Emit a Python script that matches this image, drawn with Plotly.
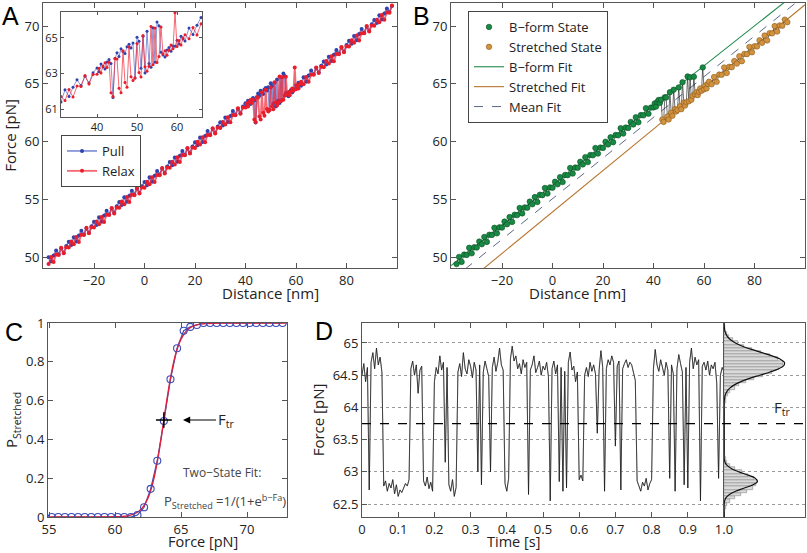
import plotly.graph_objects as go

# ---------------- Panel A data (distance [nm], force [pN]) ----------------
dist_a = list(range(-38, 40)) + [40 + 0.5 * i for i in range(45)] + list(range(63, 99))

pull_force = [
    49.99, 49.61, 50.13, 50.56, 50.23, 50.75, 50.37, 50.95, 51.32, 51.04,
    51.71, 51.34, 51.86, 52.28, 51.96, 52.48, 52.10, 52.67, 53.05, 52.77,
    53.44, 53.06, 53.59, 54.01, 53.68, 54.20, 53.83, 54.40, 54.77, 54.50,
    55.17, 54.79, 55.31, 55.74, 55.41, 55.93, 55.55, 56.13, 56.50, 56.22,
    56.90, 56.52, 57.04, 57.46, 57.14, 57.66, 57.28, 57.85, 58.23, 57.95,
    58.62, 58.25, 58.77, 59.19, 58.86, 59.39, 59.01, 59.58, 59.95, 59.68,
    60.35, 59.97, 60.49, 60.92, 60.59, 61.11, 60.74, 61.31, 61.68, 61.40,
    62.08, 61.70, 62.22, 62.64, 62.32, 62.84, 62.46, 63.04,
    63.31, 63.10, 63.53, 63.37, 63.25, 63.64, 63.78, 63.56, 61.65, 63.84,
    64.17, 63.96, 64.39, 64.23, 64.12, 64.50, 64.64, 64.43, 64.71, 62.74,
    65.04, 64.82, 63.30, 65.09, 63.03, 65.37, 63.56, 63.35, 65.58, 63.63,
    65.90, 65.68, 64.20, 64.04, 63.93, 64.32, 64.46, 64.25, 64.54, 64.53,
    64.87, 64.66, 65.10, 64.94, 64.83,
    65.56, 65.19, 65.72, 66.15, 65.83, 66.36, 65.99, 66.57, 66.94, 66.67,
    67.35, 66.98, 67.51, 67.94, 67.62, 68.15, 67.78, 68.36, 68.74, 68.47,
    69.15, 68.78, 69.31, 69.74, 69.42, 69.95, 69.58, 70.16, 70.53, 70.26,
    70.94, 70.57, 71.10, 71.53, 71.21, 71.74,
]

relax_force = [
    49.39, 50.01, 49.58, 50.21, 50.18, 50.80, 50.32, 50.85, 50.82, 51.34,
    51.11, 51.74, 51.31, 51.93, 51.91, 52.53, 52.05, 52.57, 52.55, 53.07,
    52.84, 53.46, 53.04, 53.66, 53.63, 54.25, 53.78, 54.30, 54.27, 54.80,
    54.57, 55.19, 54.76, 55.39, 55.36, 55.98, 55.50, 56.03, 56.00, 56.52,
    56.30, 56.92, 56.49, 57.11, 57.09, 57.71, 57.23, 57.75, 57.73, 58.25,
    58.02, 58.65, 58.22, 58.84, 58.81, 59.44, 58.96, 59.48, 59.45, 59.98,
    59.75, 60.37, 59.94, 60.57, 60.54, 61.16, 60.69, 61.21, 61.18, 61.70,
    61.48, 62.10, 61.67, 62.29, 62.27, 62.89, 62.41, 62.94,
    62.96, 63.30, 63.03, 63.42, 63.60, 63.34, 63.63, 61.91, 61.70, 63.84,
    63.82, 62.17, 61.91, 64.28, 62.49, 62.23, 64.49, 62.81, 62.60, 62.74,
    64.69, 63.06, 62.80, 65.14, 63.38, 63.12, 63.41, 65.64, 63.49, 65.56,
    63.62, 63.96, 65.62, 64.09, 64.28, 64.02, 64.31, 64.60, 64.39, 66.42,
    64.52, 64.86, 64.60, 64.99, 65.18,
    64.96, 65.59, 65.17, 65.80, 65.78, 66.41, 65.94, 66.47, 66.44, 66.97,
    66.75, 67.38, 66.96, 67.59, 67.57, 68.20, 67.73, 68.26, 68.24, 68.77,
    68.55, 69.18, 68.76, 69.39, 69.37, 70.00, 69.53, 70.06, 70.03, 70.56,
    70.34, 70.97, 70.55, 71.18, 71.16, 71.79,
]

# ---------------- Panel B: linear fits (slope pN/nm, intercept pN) ----------------
bform_fit = (0.1727, 56.2)
stretched_fit = (0.1795, 53.9)
b_max_dist = 93

# ---------------- Panel C data ----------------
c_force = [55.2 + 0.5 * k for k in range(36)]
c_prob = [0, 0, 0, 0, 0, 0, 0, 0, 0, 0, 0, 0, 0,
          0.01, 0.05, 0.145, 0.29, 0.495, 0.71, 0.87, 0.96, 0.98, 0.99,
          1, 1, 1, 1, 1, 1, 1, 1, 1, 1, 1, 1, 1]
c_fit_x = [55, 60, 60.5, 61, 61.5, 62, 62.5, 62.75, 63, 63.25, 63.5, 63.75, 64,
           64.25, 64.5, 64.75, 65, 65.5, 66, 66.5, 67, 68, 73]
c_fit_y = [0, 0.0011, 0.0027, 0.0067, 0.0168, 0.0413, 0.098, 0.147, 0.215, 0.303,
           0.408, 0.523, 0.635, 0.734, 0.815, 0.875, 0.917, 0.965, 0.986, 0.9944,
           0.9978, 0.9997, 1.0]
c_ftr, c_ftr_err, c_p_err = 63.7, 0.6, 0.04

# ---------------- Panel D data ----------------
d_time = [i * 0.005 for i in range(201)]
d_force = [
    64.50, 64.68, 64.40, 64.62, 62.72, 64.70, 64.85, 64.60, 64.92, 64.66,
    64.78, 64.55, 62.78, 62.86, 62.70, 62.82, 62.75, 62.88, 62.66, 62.80,
    62.62, 62.72, 62.68, 62.76, 62.82, 62.78, 62.88, 64.60, 64.72, 64.50,
    64.66, 64.22, 64.58, 64.64, 62.86, 62.78, 62.92, 62.74, 62.84, 62.70,
    64.40, 64.62, 64.52, 64.80, 64.58, 64.70, 63.15, 64.62, 62.80, 62.70,
    62.88, 62.62, 62.76, 64.55, 64.68, 64.48, 64.85, 64.60, 64.52, 64.74,
    64.64, 64.46, 64.70, 64.58, 63.00, 64.66, 62.80, 64.55, 64.72, 64.60,
    64.48, 63.00, 64.62, 64.78, 64.56, 64.70, 64.92, 64.66, 64.58, 62.82,
    62.70, 62.90, 64.75, 64.95, 64.72, 64.80, 64.60, 64.68, 64.52, 64.74,
    64.62, 64.70, 62.65, 64.58, 64.66, 64.80, 64.54, 64.62, 64.72, 64.50,
    64.64, 64.58, 64.70, 64.48, 62.55, 64.60, 64.72, 64.52, 64.66, 62.85,
    64.62, 62.70, 64.56, 62.75, 64.70, 64.86, 64.58, 64.64, 64.40, 64.55,
    62.88, 62.95, 62.86, 64.50, 64.62, 64.48, 64.70, 64.56, 64.66, 64.52,
    63.60, 64.58, 64.88, 64.62, 62.70, 64.60, 64.74, 64.66, 64.80, 64.70,
    63.40, 64.64, 64.72, 62.72, 64.60, 64.68, 64.74, 64.62, 64.70, 64.66,
    64.56, 64.42, 62.86, 62.76, 62.70, 62.84, 62.78, 62.90, 62.72, 62.82,
    62.88, 64.60, 64.90, 64.66, 64.56, 64.74, 64.62, 64.50, 64.70, 64.58,
    62.90, 64.66, 64.52, 62.70, 64.60, 64.82, 64.68, 64.55, 62.80, 64.62,
    62.75, 64.70, 64.92, 64.60, 64.78, 64.66, 64.74, 62.55, 64.64, 64.70,
    64.58, 64.72, 64.50, 64.66, 64.60, 64.70, 64.38, 62.90, 64.50, 64.62,
    64.55,
]
d_ftr = 63.75
hist_centers = [round(62.35 + 0.05 * i, 2) for i in range(59)]
hist_counts = [
    0.005, 0.01, 0.02, 0.04, 0.08, 0.14, 0.21, 0.29, 0.36, 0.40,
    0.41, 0.37, 0.30, 0.22, 0.14, 0.08, 0.04, 0.02, 0.01, 0.005,
    0.003, 0.003, 0.002, 0.002, 0.002, 0.003, 0.002, 0.003, 0.003, 0.002,
    0.003, 0.004, 0.005,
    0.008, 0.012, 0.02, 0.03, 0.05, 0.08, 0.13, 0.19, 0.27, 0.37,
    0.48, 0.59, 0.68, 0.73, 0.73, 0.67, 0.57, 0.46, 0.35, 0.25,
    0.17, 0.11, 0.065, 0.035, 0.018, 0.009,
]
hfit_force = [round(62.30 + 0.05 * i, 2) for i in range(61)]
hfit_count = [
    0.0, 0.0, 0.0001, 0.0004, 0.002, 0.008, 0.025, 0.067, 0.144, 0.252,
    0.358, 0.413, 0.388, 0.297, 0.185, 0.094, 0.038, 0.013, 0.003, 0.001,
    0.0, 0.0, 0.0, 0.0, 0.0, 0.0, 0.0, 0.0, 0.0, 0.0,
    0.0, 0.0, 0.0, 0.0001, 0.0004, 0.0011, 0.003, 0.008, 0.017, 0.037,
    0.071, 0.127, 0.209, 0.316, 0.442, 0.569, 0.676, 0.739, 0.745, 0.692,
    0.593, 0.468, 0.340, 0.228, 0.141, 0.080, 0.042, 0.020, 0.009, 0.004,
    0.001,
]

# ---------------- styling ----------------
FONT = "Open Sans"
W, H = 807, 553
TICKC = "#222"
LINEC = "#555"


def dx(p):
    return p / W


def dy(p):
    return 1 - p / H


def axis(domain, rng, tickvals, ticktext=None, size=13, **kw):
    a = dict(domain=domain, range=rng, tickvals=tickvals, showline=True, linecolor=LINEC,
             linewidth=1, mirror="ticks", ticks="inside", ticklen=5, tickcolor=LINEC,
             tickfont=dict(family=FONT, size=size, color=TICKC), showgrid=False,
             zeroline=False, fixedrange=True, automargin=False)
    if ticktext is not None:
        a["ticktext"] = ticktext
    a.update(kw)
    return a


TITLEF = dict(family=FONT, size=15, color=TICKC)
TITLEF_B = dict(family=FONT, size=14.5, color=TICKC)

fig = go.Figure()

BLUE_L, BLUE_M = "rgba(60,80,190,0.6)", "#2f43ad"
RED_L, RED_M = "rgba(240,40,55,0.7)", "#ea1d2b"

# Panel A main
fig.add_trace(go.Scatter(x=dist_a, y=pull_force, mode="lines+markers", name="Pull",
                         line=dict(color=BLUE_L, width=1.8), marker=dict(color=BLUE_M, size=4),
                         xaxis="x", yaxis="y", legend="legend"))
fig.add_trace(go.Scatter(x=dist_a, y=relax_force, mode="lines+markers", name="Relax",
                         line=dict(color=RED_L, width=1.8), marker=dict(color=RED_M, size=4),
                         xaxis="x", yaxis="y", legend="legend"))
# Panel A inset
fig.add_trace(go.Scatter(x=dist_a, y=pull_force, mode="lines+markers", showlegend=False,
                         line=dict(color=BLUE_L, width=1), marker=dict(color=BLUE_M, size=3),
                         xaxis="x2", yaxis="y2"))
fig.add_trace(go.Scatter(x=dist_a, y=relax_force, mode="lines+markers", showlegend=False,
                         line=dict(color=RED_L, width=1), marker=dict(color=RED_M, size=3),
                         xaxis="x2", yaxis="y2"))

# Panel B
mean_fit = ((bform_fit[0] + stretched_fit[0]) / 2, (bform_fit[1] + stretched_fit[1]) / 2)
b_d = [d for d in dist_a if d <= b_max_dist]
b_f = relax_force[:len(b_d)]
b_state = [f >= mean_fit[0] * d + mean_fit[1] for d, f in zip(b_d, b_f)]
fit_x = [-40.2, 100]
for (s, c), nm, col, dash, rank in [
    (bform_fit, "B\u2212form Fit", "#1f8a4c", "solid", 3),
    (stretched_fit, "Stretched Fit", "#b8742e", "solid", 4),
    (mean_fit, "Mean Fit", "#4b5878", "dash", 5),
]:
    fig.add_trace(go.Scatter(x=fit_x, y=[s * x + c for x in fit_x], mode="lines", name=nm,
                             line=dict(color=col, width=1.1 if dash == "solid" else 0.9, dash=dash),
                             xaxis="x3", yaxis="y3", legend="legend2", legendrank=rank))
fig.add_trace(go.Scatter(x=b_d, y=b_f, mode="lines", showlegend=False,
                         line=dict(color="#111", width=0.6), xaxis="x3", yaxis="y3"))
fig.add_trace(go.Scatter(x=[d for d, s in zip(b_d, b_state) if s],
                         y=[f for f, s in zip(b_f, b_state) if s], mode="markers",
                         name="B\u2212form State",
                         marker=dict(color="#178a43", size=5.5, line=dict(color="#0b4d24", width=0.6)),
                         xaxis="x3", yaxis="y3", legend="legend2", legendrank=1))
fig.add_trace(go.Scatter(x=[d for d, s in zip(b_d, b_state) if not s],
                         y=[f for f, s in zip(b_f, b_state) if not s], mode="markers",
                         name="Stretched State",
                         marker=dict(color="#d2923e", size=5.5, line=dict(color="#8c5b1c", width=0.6)),
                         xaxis="x3", yaxis="y3", legend="legend2", legendrank=2))

# Panel C
fig.add_trace(go.Scatter(x=c_force, y=c_prob, mode="lines", showlegend=False,
                         line=dict(color="#3b4cb8", width=1.2), xaxis="x4", yaxis="y4"))
fig.add_trace(go.Scatter(x=c_fit_x, y=c_fit_y, mode="lines", showlegend=False, line_shape="spline",
                         line=dict(color="#e0203a", width=1.4), xaxis="x4", yaxis="y4"))
fig.add_trace(go.Scatter(x=c_force, y=c_prob, mode="markers", showlegend=False,
                         marker=dict(symbol="circle-open", color="#3b4cb8", size=7, line=dict(width=1.1)),
                         xaxis="x4", yaxis="y4"))
fig.add_trace(go.Scatter(x=[c_ftr], y=[0.5], mode="markers", showlegend=False,
                         marker=dict(size=1, color="black"),
                         error_x=dict(type="constant", value=c_ftr_err, color="black", thickness=1.5, width=0),
                         error_y=dict(type="constant", value=c_p_err, color="black", thickness=1.5, width=0),
                         xaxis="x4", yaxis="y4"))

# Panel D
fig.add_trace(go.Scatter(x=d_time, y=d_force, mode="lines", showlegend=False,
                         line=dict(color="#a8a8a8", width=1.0), xaxis="x5", yaxis="y5"))
fig.add_trace(go.Scatter(x=d_time, y=d_force, mode="lines", showlegend=False,
                         line=dict(color="#111", width=0.7), xaxis="x5", yaxis="y5"))
fig.add_trace(go.Bar(x=hist_counts, y=hist_centers, orientation="h", width=0.05, showlegend=False,
                     marker=dict(color="#dadada", line=dict(color="#8a8a8a", width=0.6)),
                     xaxis="x6", yaxis="y6"))
fig.add_trace(go.Scatter(x=hfit_count, y=hfit_force, mode="lines", showlegend=False, line_shape="spline",
                         line=dict(color="#111", width=1.2), xaxis="x6", yaxis="y6"))

dom_top = [dy(268), dy(3)]
dom_bot = [dy(517), dy(323)]
yrange_ab = [49.05, 72.0]
yrange_d = [62.3, 65.31]

fig.update_layout(
    template="none",
    width=W, height=H, margin=dict(l=0, r=0, t=0, b=0, autoexpand=False),
    paper_bgcolor="white", plot_bgcolor="white",
    font=dict(family=FONT, color=TICKC),
    bargap=0,
    xaxis=axis([dx(43), dx(397)], [-40.2, 100], [-20, 0, 20, 40, 60, 80]),
    yaxis=axis(dom_top, yrange_ab, [50, 55, 60, 65, 70],
               title=dict(text="Force [pN]", font=TITLEF, standoff=4)),
    xaxis2=axis([dx(61), dx(202)], [31, 66.25], [40, 50, 60], size=11, anchor="y2", ticklen=3),
    yaxis2=axis([dy(117), dy(12)], [60.55, 66.46], [61, 63, 65], size=11, anchor="x2", ticklen=3),
    xaxis3=axis([dx(451), dx(805)], [-40.2, 100], [-20, 0, 20, 40, 60, 80], anchor="y3"),
    yaxis3=axis(dom_top, yrange_ab, [50, 55, 60, 65, 70], anchor="x3"),
    xaxis4=axis([dx(48), dx(287)], [54.92, 73.03], [55, 60, 65, 70], anchor="y4"),
    yaxis4=axis(dom_bot, [0, 1], [0, 0.2, 0.4, 0.6, 0.8, 1], ["0", "0.2", "0.4", "0.6", "0.8", "1"],
                anchor="x4", title=dict(text="P<sub>Stretched</sub>", font=TITLEF, standoff=4)),
    xaxis5=axis([dx(362), dx(724)], [0, 1], [0, 0.1, 0.2, 0.3, 0.4, 0.5, 0.6, 0.7, 0.8, 0.9, 1.0],
                ["0", "0.1", "0.2", "0.3", "0.4", "0.5", "0.6", "0.7", "0.8", "0.9", "1.0"],
                anchor="y5"),
    yaxis5=axis(dom_bot, yrange_d, [62.5, 63, 63.5, 64, 64.5, 65],
                ["62.5", "63", "63.5", "64", "64.5", "65"], anchor="x5", mirror=True,
                showgrid=True, gridcolor="#9a9a9a", griddash="dot", gridwidth=1,
                title=dict(text="Force [pN]", font=TITLEF, standoff=4)),
    xaxis6=axis([dx(724), dx(805)], [0, 1], [], anchor="y6", showticklabels=False, ticks=""),
    yaxis6=axis(dom_bot, yrange_d, [62.5, 63, 63.5, 64, 64.5, 65], anchor="x6",
                showticklabels=False, ticks="", showgrid=True, gridcolor="#9a9a9a",
                griddash="dot", gridwidth=1),
    legend=dict(x=dx(61), y=dy(135), xanchor="left", yanchor="top", bgcolor="white",
                bordercolor="#444", borderwidth=1, font=dict(family=FONT, size=13, color=TICKC),
                itemwidth=30, tracegroupgap=0),
    legend2=dict(x=dx(468), y=dy(11), xanchor="left", yanchor="top", bgcolor="white",
                 bordercolor="#444", borderwidth=1, font=dict(family=FONT, size=13, color=TICKC),
                 itemwidth=30, tracegroupgap=0),
    shapes=[dict(type="line", xref="paper", yref="y5", x0=dx(362), x1=dx(805), y0=d_ftr, y1=d_ftr,
                 line=dict(color="black", width=1.3, dash="dash"))],
)

LETTER = dict(family="Liberation Sans", size=25, color="black")
ann = [
    dict(text="A", x=0, y=1, xanchor="left", yanchor="top", xref="paper", yref="paper",
         showarrow=False, font=LETTER),
    dict(text="B", x=dx(421), y=1, xanchor="center", yanchor="top", xref="paper", yref="paper",
         showarrow=False, font=LETTER),
    dict(text="C", x=dx(3), y=dy(316), xanchor="left", yanchor="top", xref="paper", yref="paper",
         showarrow=False, font=LETTER),
    dict(text="D", x=dx(324), y=dy(331), xref="paper", yref="paper", showarrow=False, font=LETTER),
    # axis titles (x)
    dict(text="Distance [nm]", x=dx(220), y=dy(293), xref="paper", yref="paper", showarrow=False, font=TITLEF),
    dict(text="Distance [nm]", x=dx(628), y=dy(293), xref="paper", yref="paper", showarrow=False, font=TITLEF),
    dict(text="Force [pN]", x=dx(166), y=0, yanchor="bottom", xref="paper", yref="paper",
         showarrow=False, font=TITLEF_B),
    dict(text="Time [s]", x=dx(542), y=0, yanchor="bottom", xref="paper", yref="paper",
         showarrow=False, font=TITLEF_B),
    # panel C annotations
    dict(text="F<sub>tr</sub>", x=65.15, y=0.5, ax=67.65, ay=0.5, xref="x4", yref="y4", axref="x4",
         ayref="y4", xanchor="left", showarrow=True, arrowhead=2, arrowsize=1.2, arrowwidth=1.2,
         arrowcolor="black", font=dict(family=FONT, size=15, color=TICKC)),
    dict(text="Two\u2212State Fit:", x=68.1, y=0.227, xref="x4", yref="y4", showarrow=False,
         font=dict(family=FONT, size=12, color="#444")),
    dict(text="P<sub>Stretched</sub> =1/(1+e<sup>b\u2212Fa</sup>)", x=68.3, y=0.08, xref="x4", yref="y4",
         showarrow=False, font=dict(family=FONT, size=13, color="#444")),
    # panel D annotation
    dict(text="F<sub>tr</sub>", x=0.72, y=63.99, xref="x6", yref="y6", showarrow=False,
         font=dict(family=FONT, size=15, color=TICKC)),
]
fig.update_layout(annotations=ann)

fig.write_html("out.html", config={"displayModeBar": False})

# remove the default page margin so the figure starts at the window's corner
with open("out.html", "r", encoding="utf-8") as fh:
    html = fh.read()
html = html.replace("<body>", '<body style="margin:0;padding:0;overflow:hidden">', 1)
with open("out.html", "w", encoding="utf-8") as fh:
    fh.write(html)
